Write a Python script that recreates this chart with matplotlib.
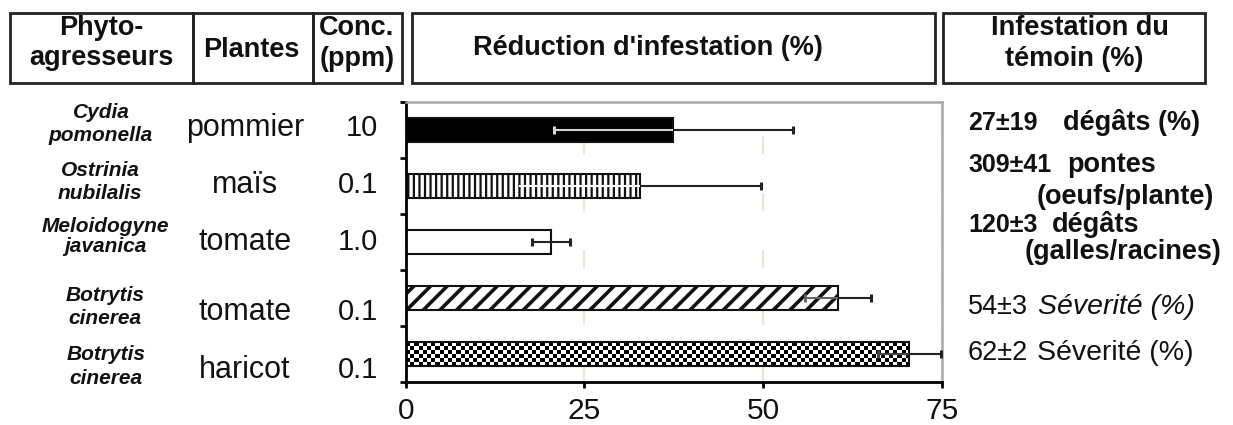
import numpy as np
import matplotlib
matplotlib.use("Agg")
import matplotlib.pyplot as plt
from matplotlib.patches import Rectangle

plt.rcParams['font.family'] = ['Liberation Sans', 'DejaVu Sans']
plt.rcParams['lines.scale_dashes'] = False
plt.rcParams['hatch.linewidth'] = 1.6

# ---- data ----
species = ["Cydia pomonella", "Ostrinia nubilalis", "Meloidogyne javanica",
           "Botrytis cinerea", "Botrytis cinerea"]
plants = ["pommier", "maïs", "tomate", "tomate", "haricot"]
concentrations = ["10", "0.1", "1.0", "0.1", "0.1"]
reduction = [37.4, 32.8, 20.3, 60.5, 70.4]
reduction_err = [16.7, 16.9, 2.7, 4.6, 4.4]
control_values = ["27±19", "309±41", "120±3", "54±3", "62±2"]
control_units = [["dégâts (%)"], ["pontes", "(oeufs/plante)"],
                 ["dégâts", "(galles/racines)"], ["Séverité (%)"], ["Séverité (%)"]]
xticks = [0, 25, 50, 75]

# ---- styling ----
W, H = 1233, 425
TXT = '#111111'
bar_faces = ['black', 'white', 'white', 'white', 'checker']
bar_hatches = [None, '|||', None, '//', None]
lower_err_colors = ['#d6d6d6', 'white', '#222222', '#666666', '#444444']
lower_err_caps = [True, False, True, True, True]
control_bold = [True, True, True, False, False]
unit_italic = [False, False, False, True, False]


def fx(x):
    return x / W


def fy(y):
    return 1 - y / H


fig = plt.figure(figsize=(W / 100, H / 100), dpi=100)
ax = fig.add_axes([fx(405.7), fy(382), (942 - 405.7) / W, 280 / H])

pos = np.arange(len(reduction))
ax.set_xlim(0, 75)
ax.set_ylim(len(reduction) - 0.5, -0.5)

bars = ax.barh(pos, reduction, height=0.42, color='white', edgecolor=TXT,
               linewidth=1.5, zorder=2)
for bar, face, hatch in zip(bars, bar_faces, bar_hatches):
    if face == 'checker':
        bar.set_facecolor('none')
        bar.set_zorder(2.3)
        x0, y0 = bar.get_x(), bar.get_y()
        x1, y1 = x0 + bar.get_width(), y0 + bar.get_height()
        p0 = ax.transData.transform((x0, y0))
        p1 = ax.transData.transform((x1, y1))
        ncols = max(1, int(round(abs(p1[0] - p0[0]) / 4.2)))
        nrows = max(1, int(round(abs(p1[1] - p0[1]) / 4.2)))
        board = np.add.outer(np.arange(nrows), np.arange(ncols)) % 2
        img = ax.imshow(board, cmap='gray', extent=(x0, x1, y1, y0),
                        aspect='auto', interpolation='nearest', zorder=2.1)
        img.set_clip_path(bar)
    else:
        bar.set_facecolor(face)
    if hatch:
        bar.set_hatch(hatch)
        try:
            bar.set_hatch_linewidth(1.6 if hatch == '|||' else 2.6)
        except AttributeError:
            pass

ax.set_xlim(0, 75)
ax.set_ylim(len(reduction) - 0.5, -0.5)

# error bars: upper part dark, lower part coloured to stay visible on the fill
for i, (v, e) in enumerate(zip(reduction, reduction_err)):
    ax.plot([v, v + e], [i, i], color='#222222', lw=1.5, zorder=4,
            solid_capstyle='butt')
    ax.plot([v + e], [i], marker='|', ms=5.5, mew=2.2, color='#222222', zorder=4)
    ax.plot([v - e, v], [i, i], color=lower_err_colors[i], lw=1.5, zorder=4,
            solid_capstyle='butt')
    if lower_err_caps[i]:
        ax.plot([v - e], [i], marker='|', ms=5.5, mew=2.2,
                color=lower_err_colors[i], zorder=4)

# axes frame
ax.set_xticks(xticks)
ax.set_yticks([])
ax.set_yticks(np.arange(-0.5, len(reduction)), minor=True)
ax.tick_params(axis='y', which='minor', direction='out', length=4, width=2,
               color='black', left=True)
ax.tick_params(axis='x', direction='out', length=4, width=2, color='black',
               labelsize=21.5, pad=7, labelcolor=TXT)
ax.xaxis.grid(True, color='#e9e7da', lw=1.6, linestyle=(0, (13, 28)))
ax.set_axisbelow(True)
for side in ('left', 'bottom'):
    ax.spines[side].set_color('black')
    ax.spines[side].set_linewidth(2)
for side in ('top', 'right'):
    ax.spines[side].set_color('#a8a8a8')
    ax.spines[side].set_linewidth(1.8)

# header boxes
boxes = [(10, 193), (193, 313), (313, 402), (412, 935), (943, 1205)]
for x0, x1 in boxes:
    fig.add_artist(Rectangle((fx(x0), fy(83)), (x1 - x0) / W, 70 / H,
                             transform=fig.transFigure, fill=False,
                             ec='#222222', lw=2))

hdr = dict(fontsize=19.5, fontweight='bold', color=TXT, ha='center', va='center')
fig.text(fx(101), fy(28), "Phyto-", **hdr)
fig.text(fx(101), fy(58), "agresseurs", **hdr)
fig.text(fx(251), fy(50), "Plantes", **hdr)
fig.text(fx(357), fy(28), "Conc.", **hdr)
fig.text(fx(357), fy(59), "(ppm)", **hdr)
fig.text(fx(648), fy(48), "Réduction d'infestation (%)", **hdr)
fig.text(fx(1080), fy(28), "Infestation du", **hdr)
fig.text(fx(1074), fy(59), "témoin (%)", **hdr)

# row labels
species_y = [124, 182, 236, 307, 367]
species_x = [101, 100, 105, 105, 106]
species_gap = [11.5, 11.5, 10, 11.5, 12]
label_baseline = [136, 193, 250, 320, 378]
for i in range(len(species)):
    first, second = species[i].split(' ')
    sp = dict(fontsize=15, fontweight='bold', fontstyle='italic', color=TXT,
              ha='center', va='center')
    fig.text(fx(species_x[i]), fy(species_y[i] - species_gap[i]), first, **sp)
    fig.text(fx(species_x[i]), fy(species_y[i] + species_gap[i]), second, **sp)
    fig.text(fx(245), fy(label_baseline[i]), plants[i], fontsize=22,
             color=TXT, ha='center', va='baseline')
    fig.text(fx(378), fy(label_baseline[i]), concentrations[i], fontsize=21,
             color=TXT, ha='right', va='baseline')

# control infestation column
value_y = [123, 165, 225, 307, 353]
unit_x = [1063, 1067, 1052, 1038, 1037]
second_line = {1: (1037, 197), 2: (1025, 252)}
for i in range(len(control_values)):
    bold = control_bold[i]
    weight = 'bold' if bold else 'normal'
    fig.text(fx(968), fy(value_y[i]), control_values[i],
             fontsize=18 if bold else 19.5, fontweight=weight, color=TXT,
             ha='left', va='center')
    unit_kw = dict(fontsize=19.5 if bold else 20.5, fontweight=weight, color=TXT,
                   fontstyle='italic' if unit_italic[i] else 'normal',
                   ha='left', va='center')
    fig.text(fx(unit_x[i]), fy(value_y[i]), control_units[i][0], **unit_kw)
    if len(control_units[i]) > 1:
        sx, sy = second_line[i]
        fig.text(fx(sx), fy(sy), control_units[i][1], **unit_kw)

fig.savefig("out.png", dpi=100)
